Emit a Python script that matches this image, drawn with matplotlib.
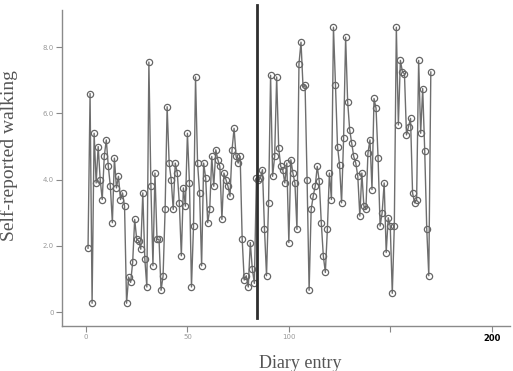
import numpy as np
import matplotlib
matplotlib.use("Agg")
import matplotlib.pyplot as plt

# Walking scores, before and after the change point
przed = [1.93, 6.6, 0.27, 5.4, 3.9, 5.0, 4.0, 3.4, 4.7, 5.2,
         4.4, 3.8, 2.7, 4.65, 3.75, 4.1, 3.4, 3.6, 3.2, 0.27,
         1.06, 0.9, 1.5, 2.8, 2.2, 2.15, 1.9, 3.6, 1.6, 0.76,
         7.55, 3.8, 1.4, 4.2, 2.2, 2.2, 0.66, 1.1, 3.1, 6.2,
         4.5, 4.0, 3.1, 4.5, 4.2, 3.3, 1.7, 3.75, 3.2, 5.4,
         3.9, 0.76, 2.6, 7.1, 4.5, 3.6, 1.4, 4.5, 4.05, 2.7,
         3.1, 4.7, 3.8, 4.9, 4.6, 4.4, 2.8, 4.2, 4.0, 3.8,
         3.5, 4.9, 5.55, 4.7, 4.5, 4.7, 2.2, 0.97, 1.1, 0.76,
         2.1, 1.3, 0.87, 4.05]
po = [4.0, 4.05, 4.3, 2.5, 1.1, 3.3, 7.15, 4.1, 4.7, 7.1,
      4.95, 4.4, 4.3, 3.9, 4.5, 2.1, 4.6, 4.2, 3.9, 2.5,
      7.5, 8.15, 6.8, 6.85, 4.0, 0.66, 3.1, 3.5, 3.8, 4.4,
      3.95, 2.7, 1.7, 1.2, 2.5, 4.2, 3.4, 8.6, 6.85, 5.0,
      4.45, 3.3, 5.25, 8.3, 6.35, 5.5, 5.1, 4.7, 4.5, 4.1,
      2.9, 4.2, 3.2, 3.1, 4.8, 5.2, 3.7, 6.45, 6.15, 4.65,
      2.6, 3.0, 3.9, 1.8, 2.85, 2.6, 0.57, 2.6, 8.6, 5.65,
      7.6, 7.25, 7.2, 5.35, 5.6, 5.85, 3.6, 3.3, 3.4, 7.6,
      5.4, 6.75, 4.85, 2.5, 1.1, 7.25]

wartosci = przed + po
wpisy = np.arange(1, len(wartosci) + 1)
punkt_zmiany = len(przed) + 0.5

x_ticks = [0, 50, 100, 150, 200]
x_labels = ["0", "50", "100", "", "200"]
y_ticks = [0, 2, 4, 6, 8]
y_labels = ["0", "2.0", "4.0", "6.0", "8.0"]

fig = plt.figure(figsize=(5.13, 3.71), dpi=100)
ax = fig.add_axes([0.121, 0.121, 0.873, 0.852])

ax.plot(wpisy, wartosci, color="#6e6e6e", lw=1.0, marker="o", ms=4.5,
        mfc="none", mec="#666666", mew=0.9)

ax.axvline(punkt_zmiany, ymin=0.025, ymax=1.016, color="#2e2e2e", lw=2,
           clip_on=False)

ax.set_xlim(-11.8, 209)
ax.set_ylim(-0.42, 9.12)

ax.set_xticks(x_ticks)
ax.set_xticklabels(x_labels, fontsize=5, color="#999999")
ax.set_yticks(y_ticks)
ax.set_yticklabels(y_labels, fontsize=5, color="#999999")
ax.tick_params(axis="both", direction="out", length=4, width=0.8,
               color="#888888", pad=2)
lab = ax.get_xticklabels()[-1]
lab.set_color("black")
lab.set_fontweight("bold")
lab.set_fontsize(6)

for s in ["top", "right"]:
    ax.spines[s].set_visible(False)
for s in ["left", "bottom"]:
    ax.spines[s].set_color("#8a8a8a")
    ax.spines[s].set_linewidth(1)

ax.set_xlabel("Diary entry", family="Liberation Serif", fontsize=13,
              color="#555555")
ax.xaxis.set_label_coords(0.531, -0.09)
ax.set_ylabel("Self-reported walking", family="Liberation Serif",
              fontsize=14, color="#555555")
ax.yaxis.set_label_coords(-0.098, 0.54)

fig.savefig("out.png", dpi=100)
